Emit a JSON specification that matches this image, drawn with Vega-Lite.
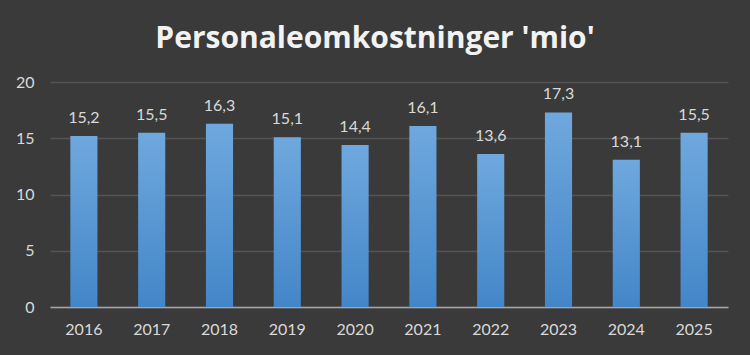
{
  "$schema": "https://vega.github.io/schema/vega-lite/v6.json",
  "width": 678,
  "height": 225,
  "autosize": {"type": "none"},
  "padding": {"left": 50, "top": 82, "right": 22, "bottom": 48},
  "background": "#3a3a3a",
  "config": {
    "locale": {"number": {"decimal": ",", "thousands": ".", "grouping": [3], "currency": ["", " kr"]}},
    "view": {"stroke": null},
    "font": "Lato"
  },
  "title": {
    "text": "Personaleomkostninger 'mio'",
    "font": "Open Sans",
    "fontSize": 30,
    "fontWeight": "bold",
    "color": "#f2f2f2",
    "offset": 20,
    "dx": -14,
    "anchor": "middle"
  },
  "data": {
    "values": [
      {"year": "2016", "value": 15.2},
      {"year": "2017", "value": 15.5},
      {"year": "2018", "value": 16.3},
      {"year": "2019", "value": 15.1},
      {"year": "2020", "value": 14.4},
      {"year": "2021", "value": 16.1},
      {"year": "2022", "value": 13.6},
      {"year": "2023", "value": 17.3},
      {"year": "2024", "value": 13.1},
      {"year": "2025", "value": 15.5}
    ]
  },
  "encoding": {
    "x": {
      "field": "year",
      "type": "ordinal",
      "scale": {"paddingInner": 0.6, "paddingOuter": 0.3},
      "axis": {
        "title": null,
        "labelAngle": 0,
        "labelColor": "#d9d9d9",
        "labelFontSize": 16,
        "labelPadding": 14,
        "ticks": false,
        "domainColor": "#a6a6a6",
        "domainWidth": 1.5,
        "grid": false
      }
    },
    "y": {
      "field": "value",
      "type": "quantitative",
      "scale": {"domain": [0, 20]},
      "axis": {
        "title": null,
        "values": [0, 5, 10, 15, 20],
        "labelColor": "#d9d9d9",
        "labelFontSize": 16,
        "labelPadding": 16,
        "ticks": false,
        "domain": false,
        "gridColor": "#545454",
        "gridWidth": 1.5
      }
    }
  },
  "layer": [
    {
      "mark": {
        "type": "bar",
        "color": {
          "gradient": "linear",
          "x1": 0, "y1": 0, "x2": 0, "y2": 1,
          "stops": [
            {"offset": 0, "color": "#6fa8de"},
            {"offset": 1, "color": "#4386c8"}
          ]
        }
      }
    },
    {
      "mark": {"type": "text", "baseline": "bottom", "dy": -10, "fontSize": 16, "color": "#d9d9d9"},
      "encoding": {
        "text": {"field": "value", "type": "quantitative", "format": ".1f"}
      }
    }
  ]
}
